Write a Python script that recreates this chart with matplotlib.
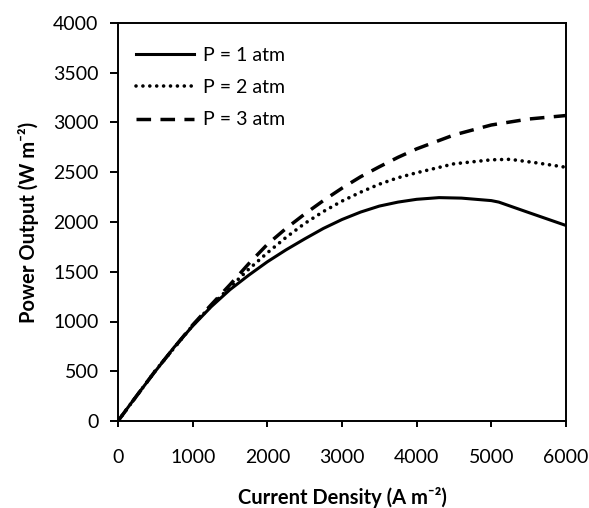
import matplotlib
matplotlib.use("Agg")
import matplotlib.pyplot as plt

# ---- data ----
x_p1 = [0, 250, 500, 750, 1000, 1250, 1500, 1750, 2000, 2250, 2500, 2750, 3000, 3250, 3500, 3750, 4000, 4300, 4600, 5000, 5100, 5500, 6000]
y_p1 = [0, 255, 500, 740, 955, 1150, 1320, 1465, 1600, 1720, 1830, 1935, 2025, 2100, 2160, 2200, 2228, 2245, 2240, 2215, 2200, 2095, 1965]

x_p2 = [0, 500, 1000, 1250, 1500, 1750, 2000, 2250, 2500, 2750, 3000, 3250, 3500, 3750, 4000, 4500, 5000, 5250, 5600, 6000]
y_p2 = [0, 505, 960, 1160, 1345, 1525, 1690, 1845, 1985, 2105, 2210, 2300, 2380, 2445, 2495, 2585, 2625, 2630, 2595, 2550]

x_p3 = [0, 500, 1000, 1250, 1500, 1750, 2000, 2250, 2500, 2750, 3000, 3250, 3500, 3750, 4000, 4500, 5000, 5500, 6000]
y_p3 = [0, 505, 965, 1170, 1370, 1580, 1775, 1935, 2080, 2215, 2340, 2455, 2555, 2650, 2735, 2875, 2975, 3035, 3070]

labels = ["P = 1 atm", "P = 2 atm", "P = 3 atm"]
x_ticks = [0, 1000, 2000, 3000, 4000, 5000, 6000]
y_ticks = [0, 500, 1000, 1500, 2000, 2500, 3000, 3500, 4000]
x_label = "Current Density (A m\u207b\u00b2)"
y_label = "Power Output (W m\u207b\u00b2)"

plt.rcParams['font.family'] = ['Lato', 'DejaVu Sans']

fig = plt.figure(figsize=(5.89, 5.08), dpi=100)
ax = fig.add_axes([118/589, 1-421/508, (566-118)/589, (421-23)/508])

lw = 2.2
ax.plot(x_p1, y_p1, color='black', lw=lw, linestyle='-', label=labels[0],
        solid_joinstyle='round')
ax.plot(x_p2, y_p2, color='black', lw=2.6, linestyle=(0, (0.01, 1.9)),
        dash_capstyle='round', label=labels[1])
ax.plot(x_p3, y_p3, color='black', lw=lw + 0.3, linestyle=(0, (4.2, 2.7)),
        dash_capstyle='butt', label=labels[2])

ax.set_xlim(0, 6000)
ax.set_ylim(0, 4000)
ax.set_xticks(x_ticks)
ax.set_yticks(y_ticks)

for s in ax.spines.values():
    s.set_linewidth(1.4)
    s.set_color('black')

ax.tick_params(axis='x', direction='out', length=4, width=1.4, pad=16, labelsize=14)
ax.tick_params(axis='y', direction='out', length=6, width=1.4, pad=8, labelsize=14)

ax.set_xlabel(x_label, fontsize=14.5, fontweight='bold', labelpad=15)
ax.set_ylabel(y_label, fontsize=14.5, fontweight='bold', labelpad=10)

leg = ax.legend(loc='upper left', bbox_to_anchor=(136/589, 1-47/508),
                bbox_transform=fig.transFigure, frameon=False, fontsize=14,
                handlelength=3.0, handletextpad=0.45, labelspacing=0.78,
                borderpad=0, borderaxespad=0)

fig.savefig("out.png", dpi=100)
